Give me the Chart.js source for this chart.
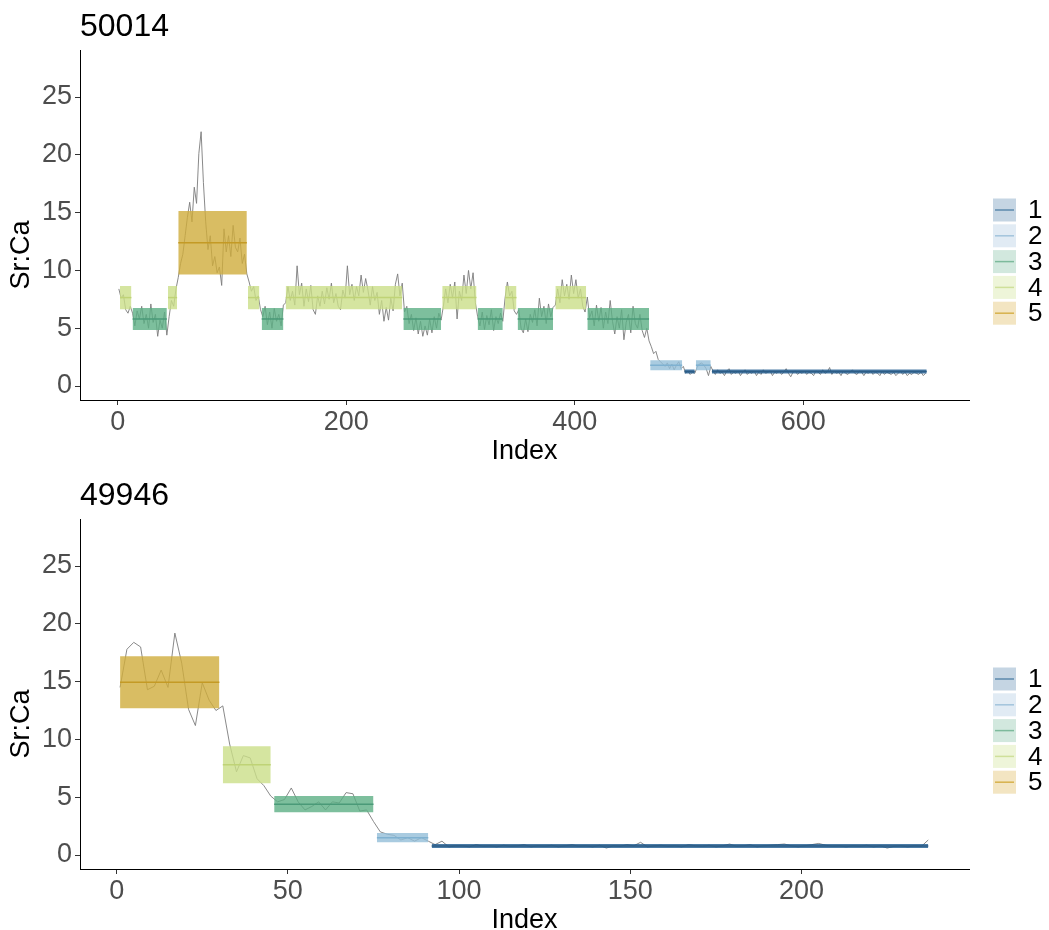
<!DOCTYPE html>
<html>
<head>
<meta charset="utf-8">
<title>Sr:Ca segments</title>
<script src="https://cdn.jsdelivr.net/npm/chart.js@4.4.1/dist/chart.umd.min.js"></script>
<style>
  html, body { margin: 0; padding: 0; background: #fff; overflow: hidden; }
  .panel { position: absolute; left: 0; width: 1049px; height: 465px; }
  #top { top: 0; }
  #bottom { top: 469px; }
</style>
</head>
<body>
<div class="panel" id="top"><canvas id="chartTop" width="1049" height="465"></canvas></div>
<div class="panel" id="bottom"><canvas id="chartBottom" width="1049" height="465"></canvas></div>
<script>
const FONT = '"Liberation Sans", Arial, sans-serif';

const clusters = ['1', '2', '3', '4', '5'];
const yTicks = [0, 5, 10, 15, 20, 25];

// segment boxes / mean lines in the plot, and the paler legend keys
const boxColors = ['rgba(30,91,144,0.8)', 'rgba(148,190,216,0.8)', 'rgba(93,175,133,0.8)', 'rgba(203,223,136,0.8)', 'rgba(208,173,60,0.8)'];
const meanColors = ['#2d5d86', '#7fb1d1', '#4a9a78', '#bfd376', '#c49a25'];
const keyFill = ['#c5d5e3', '#e1ebf4', '#d2e8de', '#eef5d9', '#f3e5c2'];
const keyLine = ['#5b88ad', '#a3c4dc', '#7dba9c', '#cfe09a', '#d6b14c'];

// ---- sample 50014 ----
const topName = '50014';
const topTicksX = [0, 200, 400, 600];
const topStep = 2; // one reading every 2nd index, starting at 1
const topSrCa = [
  8.4, 7.6, 7.9, 6.6, 6.3, 6.9,
  6.3, 5.2, 6.5, 5.8, 6.9, 5.4, 6.2, 5.0, 7.1, 5.5, 6.2, 4.3, 5.7, 5.0, 6.4, 4.4,
  6.0, 7.4, 6.9, 8.4,
  9.4, 10.6, 11.4, 13.0, 14.6, 15.9, 14.2, 17.2, 15.8, 20.1,
  22.0, 17.6, 14.2, 11.8, 13.0, 10.4, 11.2, 9.8, 10.3, 8.7,
  13.6, 11.6, 13.0, 11.2, 13.9, 12.0, 11.6, 12.8, 10.6, 11.4, 9.7,
  9.0, 8.2, 8.6, 7.4, 7.8, 6.6,
  6.0, 6.9, 5.3, 6.4, 5.0, 6.7, 5.6, 6.2, 5.2, 7.0,
  7.2, 8.6, 7.4, 8.2, 7.0, 10.4, 7.9, 8.9, 6.9, 8.4,
  7.3, 8.7, 6.6, 6.2, 7.8, 6.9, 8.2, 7.1, 8.5, 7.5,
  8.9, 7.2, 8.0, 6.9, 6.6, 8.3, 7.6, 10.4, 7.9, 8.8,
  7.4, 8.6, 7.8, 9.6, 8.1, 9.3, 8.3, 7.0, 8.6, 7.4,
  8.1, 6.2, 7.4, 5.6, 6.8, 5.7, 7.6, 6.5, 8.8, 9.7,
  7.8, 8.9,
  6.4, 6.9, 5.4, 6.2, 4.8, 5.9, 4.5, 5.6, 4.3, 5.2, 4.4, 5.8, 4.6, 6.0, 5.0, 6.3, 5.7,
  6.9, 8.4, 7.2, 8.8, 7.6, 9.0, 5.8, 8.2, 7.4, 9.6, 8.0, 10.0, 8.4, 9.8, 7.2,
  6.0, 5.2, 6.4, 4.9, 6.1, 5.3, 6.6, 4.8, 6.0, 5.4, 6.3, 5.6,
  7.6, 9.0, 7.8, 8.2, 6.5, 6.2,
  6.6, 5.0, 4.6, 5.8, 4.7, 6.2, 5.5, 6.6, 5.2, 7.6, 6.0, 6.9, 5.4, 7.1, 6.0, 6.8,
  7.0, 8.4, 7.2, 9.2, 7.8, 8.8, 7.5, 9.6, 8.0, 9.2, 7.6, 8.4, 6.9, 6.4,
  7.7, 5.9, 6.5, 5.2, 7.0, 5.6, 6.8, 5.0, 6.4, 5.4, 7.4, 5.6, 4.5, 6.0,
  5.0, 6.6, 4.0, 5.5, 6.2, 4.6, 6.9, 5.4, 5.0, 6.2, 4.8, 4.2, 5.0, 3.9,
  3.4, 2.8, 3.0, 2.3, 2.1, 1.9, 1.7,
  2.0, 1.5, 1.9, 1.4, 1.8, 2.1, 1.5, 1.7,
  1.1, 1.3, 1.0, 1.2, 1.1,
  1.6, 1.9, 2.0, 1.8, 1.5, 0.9, 1.7,
  1.3, 1.0, 1.4, 1.1, 1.2, 0.9, 1.3, 1.5, 1.0, 1.2,
  1.1, 1.3, 0.9, 1.2, 1.4, 1.0, 1.2, 1.1, 1.3, 0.9,
  1.2, 1.0, 1.4, 1.1, 1.2, 1.3, 0.9, 1.2, 1.1, 1.3,
  1.0, 1.2, 1.5, 1.1, 0.8, 1.2, 1.3, 1.0, 1.2, 1.1,
  1.3, 1.0, 1.2, 1.1, 0.9, 1.3, 1.2, 1.0, 1.4, 1.1,
  1.2, 1.6, 1.0, 1.3, 1.1, 1.2, 0.9, 1.3, 1.1, 1.0,
  1.2, 1.4, 1.1, 1.0, 1.3, 1.2, 0.9, 1.2, 1.1, 1.3,
  1.0, 1.2, 1.1, 0.9, 1.3, 1.0, 1.2, 1.1, 1.0, 1.2,
  0.9, 1.1, 1.3, 1.0, 1.2, 0.9, 1.1, 1.0, 1.2, 1.1,
  1.0, 1.2, 0.9, 1.1
];
const topSegStart = [2, 13, 44, 53, 114, 126, 147, 250, 284, 315, 339, 350, 383, 411, 466, 496, 506, 520];
const topSegEnd = [12, 43, 52, 113, 124, 145, 249, 283, 314, 337, 349, 381, 410, 465, 494, 505, 519, 708];
const topSegCluster = [4, 3, 4, 5, 4, 3, 4, 3, 4, 3, 4, 3, 4, 3, 2, 1, 2, 1];
const topMean = [1.25, 1.8, 5.8, 7.65, 12.4];
const topSd = [0.17, 0.43, 0.95, 1.0, 2.75];

// ---- sample 49946 ----
const botName = '49946';
const botTicksX = [0, 50, 100, 150, 200];
const botStep = 2; // one reading every 2nd index, starting at 1
const botSrCa = [
  14.5, 17.8, 18.4, 18.0, 14.3, 14.6, 16.0, 14.5, 19.2, 16.6,
  12.6, 11.2, 14.9, 13.4, 12.5, 12.9, 9.6, 7.2, 8.6, 8.4,
  6.6, 6.0, 5.1, 4.6, 4.8, 5.8, 4.6, 3.9, 4.2, 4.6,
  3.9, 4.6, 4.5, 5.4, 5.3, 3.8, 3.9, 2.9, 2.0, 1.8,
  1.7, 1.3, 1.5, 1.2, 1.5, 1.2, 0.9, 1.2, 0.7, 0.8,
  0.8, 0.7, 0.9, 0.75, 0.8, 0.7, 0.85, 0.75, 0.8, 0.9,
  0.7, 0.8, 0.75, 0.85, 0.7, 0.8, 0.9, 0.75, 0.8, 0.7,
  0.85, 0.6, 0.8, 0.75, 0.9, 0.8, 1.1, 0.7, 0.8, 0.85,
  0.75, 0.8, 0.7, 0.9, 0.8, 0.75, 0.85, 0.7, 0.8, 0.95,
  0.75, 0.8, 0.9, 0.7, 0.8, 0.85, 0.9, 0.95, 0.8, 0.7,
  0.8, 0.9, 1.0, 0.85, 0.75, 0.8, 0.7, 0.8, 0.75, 0.85,
  0.7, 0.8, 0.6, 0.75, 0.8, 0.7, 0.8, 0.75, 1.3
];
const botSegStart = [1, 31, 46, 76, 92];
const botSegEnd = [30, 45, 75, 91, 237];
const botSegCluster = [5, 4, 3, 2, 1];
const botMean = [0.78, 1.5, 4.4, 7.8, 14.95];
const botSd = [0.17, 0.4, 0.7, 1.6, 2.25];

// panel title, y axis title and the cluster key on the right
const panelDecor = {
  id: 'panelDecor',
  afterDraw(chart, args, opts) {
    const ctx = chart.ctx;
    const area = chart.chartArea;
    ctx.save();
    ctx.fillStyle = '#000';
    ctx.font = '32px ' + FONT;
    ctx.textAlign = 'left';
    ctx.textBaseline = 'alphabetic';
    ctx.fillText(opts.title, area.left, 36);

    ctx.save();
    ctx.translate(22, 255);
    ctx.rotate(-Math.PI / 2);
    ctx.font = '27px ' + FONT;
    ctx.textAlign = 'center';
    ctx.textBaseline = 'middle';
    ctx.fillText('Sr:Ca', 0, 0);
    ctx.restore();

    const x0 = area.right + 24;
    const pitch = 25.8;
    const cy0 = 210;
    clusters.forEach((c, i) => {
      const cy = cy0 + i * pitch;
      ctx.fillStyle = keyFill[i];
      ctx.fillRect(x0, cy - 11.5, 23, 23);
      ctx.strokeStyle = keyLine[i];
      ctx.lineWidth = 1.5;
      ctx.beginPath();
      ctx.moveTo(x0 + 2, cy);
      ctx.lineTo(x0 + 21, cy);
      ctx.stroke();
      ctx.fillStyle = '#000';
      ctx.font = '26px ' + FONT;
      ctx.textAlign = 'left';
      ctx.textBaseline = 'middle';
      ctx.fillText(c, x0 + 35, cy + 1);
    });
    ctx.restore();
  }
};

function buildDatasets(values, step, segStart, segEnd, segCluster, mean, sd) {
  const ds = [];
  ds.push({
    data: values.map((v, i) => ({ x: 1 + i * step, y: v })),
    borderColor: '#7c7c7c',
    borderWidth: 0.9,
    order: 3
  });
  segStart.forEach((s, i) => {
    const k = segCluster[i] - 1;
    const e = segEnd[i];
    // box = mean +/- sd of the cluster
    ds.push({
      data: [{ x: s, y: mean[k] + sd[k] }, { x: e, y: mean[k] + sd[k] }],
      borderColor: 'transparent',
      borderWidth: 0,
      backgroundColor: boxColors[k],
      fill: { value: mean[k] - sd[k] },
      order: 2
    });
    ds.push({
      data: [{ x: s, y: mean[k] }, { x: e, y: mean[k] }],
      borderColor: meanColors[k],
      borderWidth: 1.5,
      order: 1
    });
  });
  return ds;
}

function makePanel(canvasId, name, values, step, segStart, segEnd, segCluster, mean, sd, ticksX, xMin, xMax) {
  return new Chart(document.getElementById(canvasId), {
    type: 'line',
    data: { datasets: buildDatasets(values, step, segStart, segEnd, segCluster, mean, sd) },
    options: {
      responsive: false,
      animation: false,
      events: [],
      layout: { padding: { top: 50, right: 80, left: 0, bottom: 0 } },
      elements: { point: { radius: 0 }, line: { tension: 0 } },
      plugins: {
        legend: { display: false },
        tooltip: { enabled: false },
        panelDecor: { title: name }
      },
      scales: {
        x: {
          type: 'linear',
          min: xMin,
          max: xMax,
          afterBuildTicks: ax => { ax.ticks = ticksX.map(v => ({ value: v })); },
          afterFit: ax => { ax.height = 65; },
          grid: { drawOnChartArea: false, drawTicks: true, tickLength: 5, color: '#333' },
          border: { display: true, color: '#000', width: 1 },
          ticks: { font: { size: 27, family: FONT }, color: '#4d4d4d', padding: 1, maxRotation: 0 },
          title: { display: true, text: 'Index', color: '#000', font: { size: 27, family: FONT, lineHeight: 1 }, padding: { top: 0, bottom: 0 } }
        },
        y: {
          type: 'linear',
          min: -1.21,
          max: 29.07,
          afterBuildTicks: ax => { ax.ticks = yTicks.map(v => ({ value: v })); },
          afterFit: ax => { ax.width = 80; },
          grid: { drawOnChartArea: false, drawTicks: true, tickLength: 5, color: '#333' },
          border: { display: true, color: '#000', width: 1 },
          ticks: { font: { size: 27, family: FONT }, color: '#4d4d4d', padding: 3 }
        }
      }
    },
    plugins: [panelDecor]
  });
}

makePanel('chartTop', topName, topSrCa, topStep, topSegStart, topSegEnd, topSegCluster, topMean, topSd, topTicksX, -33, 745);
makePanel('chartBottom', botName, botSrCa, botStep, botSegStart, botSegEnd, botSegCluster, botMean, botSd, botTicksX, -10.7, 248.9);
</script>
</body>
</html>
